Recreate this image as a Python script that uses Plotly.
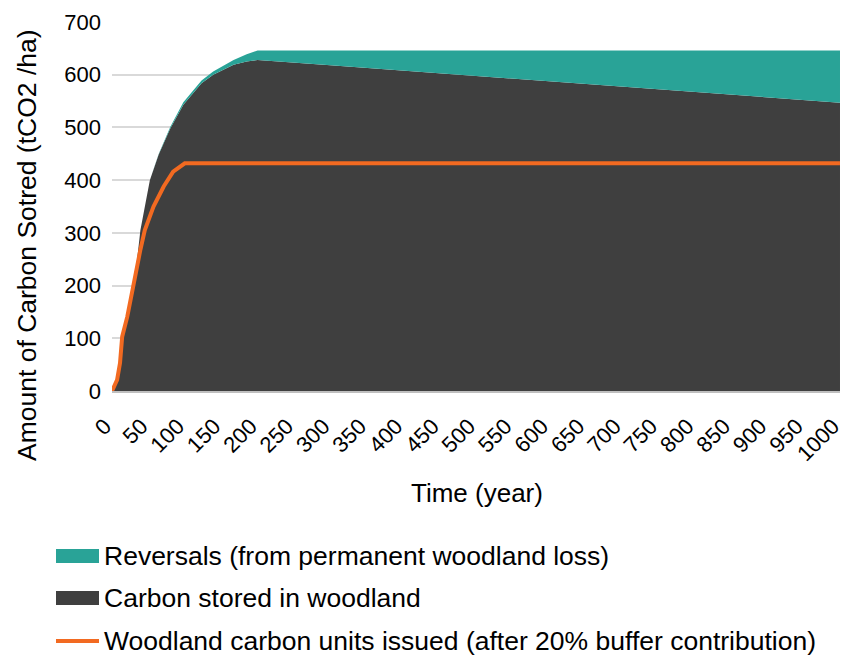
import plotly.graph_objects as go

# Data
years = [0, 5, 10, 14, 20, 25, 30, 36, 39, 46, 52, 64, 80, 98, 123, 139, 167, 185, 200,
         300, 400, 500, 600, 700, 800, 900, 1000]
carbon_stored = [0, 15, 50, 103, 140, 170, 198, 268, 305, 356, 400, 448, 498, 543, 584, 600, 619, 625, 628,
                 618, 608, 598, 588, 577, 567, 557, 547]
reversals = [0, 0, 0, 0, 0, 0, 0, 0, 0, 0, 0, 1, 3, 5, 5, 6, 9, 14, 18,
             28, 38, 48, 58, 69, 79, 89, 99]

units_years = [0, 7, 11, 14, 21, 27, 32, 39, 45, 57, 71, 84, 100, 1000]
units_issued = [0, 21, 53, 103, 141, 186, 217, 268, 305, 350, 388, 416, 432, 432]

x_ticks = list(range(0, 1001, 50))
y_ticks = list(range(0, 701, 100))

series_names = [
    "Reversals (from permanent woodland loss)",
    "Carbon stored in woodland",
    "Woodland carbon units issued (after 20% buffer contribution)",
]

TEAL = "rgb(41,163,151)"
DARK = "rgb(63,63,63)"
ORANGE = "rgb(242,106,33)"
FONT = "Liberation Sans, Arial, sans-serif"

W, H = 845, 655
ML, MR, MT, MB = 112, 5, 22, 264
PW, PH = W - ML - MR, H - MT - MB


def px_x(p):
    return (p - ML) / PW


def px_y(p):
    return (H - MB - p) / PH


fig = go.Figure()
fig.add_trace(go.Scatter(
    x=years, y=carbon_stored, name=series_names[1],
    stackgroup="one", mode="lines", line=dict(width=0, color=DARK),
    fillcolor=DARK, showlegend=False))
fig.add_trace(go.Scatter(
    x=years, y=reversals, name=series_names[0],
    stackgroup="one", mode="lines", line=dict(width=0, color=TEAL),
    fillcolor=TEAL, showlegend=False))
fig.add_trace(go.Scatter(
    x=units_years, y=units_issued, name=series_names[2],
    mode="lines", line=dict(width=4, color=ORANGE), showlegend=False))

# Manual legend (swatch shapes + text)
shapes = []
annotations = []
rows = [(556, TEAL, "rect"), (598, DARK, "rect"), (641, ORANGE, "line")]
for (cy, col, kind), name in zip(rows, series_names):
    if kind == "rect":
        shapes.append(dict(type="rect", xref="paper", yref="paper",
                           x0=px_x(56), x1=px_x(99), y0=px_y(cy - 7), y1=px_y(cy + 7),
                           fillcolor=col, line=dict(width=0)))
    else:
        shapes.append(dict(type="line", xref="paper", yref="paper",
                           x0=px_x(56), x1=px_x(99), y0=px_y(cy), y1=px_y(cy),
                           line=dict(color=col, width=4)))
    annotations.append(dict(text=name, xref="paper", yref="paper",
                            x=px_x(102), y=px_y(cy), xanchor="left", yanchor="middle",
                            showarrow=False, font=dict(size=26.5, family=FONT, color="black")))

# Axis titles
annotations.append(dict(text="Time (year)", xref="paper", yref="paper",
                        x=px_x(477), y=px_y(493), xanchor="center", yanchor="middle",
                        showarrow=False, font=dict(size=26, family=FONT, color="black")))
annotations.append(dict(text="Amount of Carbon Sotred (tCO2 /ha)", xref="paper", yref="paper",
                        x=px_x(27), y=px_y(245), xanchor="center", yanchor="middle",
                        textangle=-90, showarrow=False,
                        font=dict(size=26.5, family=FONT, color="black")))

fig.update_layout(
    width=W, height=H,
    margin=dict(l=ML, r=MR, t=MT, b=MB),
    plot_bgcolor="white", paper_bgcolor="white",
    font=dict(family=FONT, size=22, color="black"),
    showlegend=False,
    shapes=shapes,
    annotations=annotations,
    xaxis=dict(
        range=[0, 1000.01], tickmode="array", tickvals=x_ticks,
        ticktext=[str(v) for v in x_ticks], tickangle=-45,
        showgrid=False, zeroline=False, showline=True, linecolor="#bfbfbf", linewidth=1.5,
        ticks="", automargin=False, ticklabelstandoff=12, ticklabelshift=-7,
        ticklabeloverflow="allow",
        tickfont=dict(size=22),
    ),
    yaxis=dict(
        range=[0, 700], tickmode="array", tickvals=y_ticks,
        showgrid=True, gridcolor="#d9d9d9", gridwidth=1.5, zeroline=False,
        ticks="", automargin=False, ticklabelstandoff=10,
        tickfont=dict(size=22),
    ),
)

fig.write_html("out.html", config={"displayModeBar": False},
               post_script="document.body.style.margin='0';document.body.style.overflow='hidden';")
